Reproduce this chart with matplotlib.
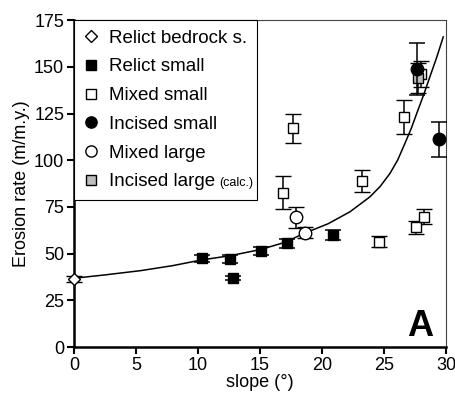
import matplotlib
matplotlib.use("Agg")
import matplotlib.pyplot as plt

plt.rcParams['font.family'] = ['Liberation Sans', 'DejaVu Sans']

# data
bedrock_x = [0.0]
bedrock_y = [36.5]
bedrock_err = [1.5]

relict_x = [10.3, 12.6, 12.85, 15.05, 17.15, 20.9]
relict_y = [47.4, 47.0, 37.0, 51.4, 55.5, 60.0]
relict_err = [2.0, 2.0, 1.0, 2.0, 2.5, 2.5]

mixed_small_x = [16.9, 17.7, 23.25, 24.6, 26.6, 27.6, 28.0, 28.25]
mixed_small_y = [82.6, 117.0, 89.0, 56.3, 123.2, 64.0, 146.0, 69.7]
mixed_small_err = [8.7, 8.0, 5.8, 3.0, 9.0, 3.5, 7.0, 4.0]

incised_small_x = [27.65, 29.4]
incised_small_y = [148.7, 111.3]
incised_small_err = [14.0, 9.4]

mixed_large_x = [17.9, 18.6]
mixed_large_y = [69.4, 61.2]
mixed_large_err = [5.5, 3.0]

incised_large_x = [27.75]
incised_large_y = [144.0]
incised_large_err = [8.0]

curve_x = [0, 2.5, 5.4, 8.0, 10.2, 12.7, 15.05, 17.0, 18.55, 20.5, 22.26, 23.87, 24.7,
           25.48, 26.1, 26.69, 27.2, 27.64, 28.2, 28.7, 29.25, 29.78]
curve_y = [36.8, 38.6, 40.9, 43.6, 46.5, 49.0, 52.2, 56.0, 60.8, 66.0, 72.4, 80.4, 86.0,
           92.9, 100.0, 109.0, 117.0, 125.0, 135.0, 144.6, 155.0, 166.0]

fig = plt.figure(figsize=(4.56, 3.95), dpi=100)
ax = fig.add_axes([0.162, 0.1215, 0.816, 0.8275])

ax.plot(curve_x, curve_y, color='black', lw=1.1, zorder=2)

ebkw = dict(ecolor='black', elinewidth=1.1, capsize=6, capthick=1.1, linestyle='none')
ax.errorbar(relict_x, relict_y, yerr=relict_err, fmt='s', ms=7.5, mfc='black', mec='black',
            label='Relict small', zorder=3, **ebkw)
ax.errorbar(mixed_small_x, mixed_small_y, yerr=mixed_small_err, fmt='s', ms=7.5, mfc='white',
            mec='black', mew=1.0, label='Mixed small', zorder=3, **ebkw)
ax.errorbar(incised_large_x, incised_large_y, yerr=incised_large_err, fmt='s', ms=7.5,
            mfc='#bdbdbd', mec='black', mew=1.0, label='Incised large', zorder=4, **ebkw)
ax.errorbar(incised_small_x, incised_small_y, yerr=incised_small_err, fmt='o', ms=9,
            mfc='black', mec='black', label='Incised small', zorder=5, **ebkw)
ax.errorbar(mixed_large_x, mixed_large_y, yerr=mixed_large_err, fmt='o', ms=9, mfc='white',
            mec='black', mew=1.0, label='Mixed large', zorder=4, **ebkw)
bed = ax.errorbar(bedrock_x, bedrock_y, yerr=bedrock_err, fmt='D', ms=6.5, mfc='white',
                  mec='black', mew=1.0, label='Relict bedrock s.', zorder=6, **ebkw)
for a in bed.lines:
    if a is None:
        continue
    if isinstance(a, (list, tuple)):
        for b in a:
            b.set_clip_on(False)
    else:
        a.set_clip_on(False)

ax.set_xlim(0, 30)
ax.set_ylim(0, 175)
ax.set_xticks(range(0, 31, 5))
ax.set_yticks(range(0, 176, 25))
ax.tick_params(direction='out', length=5, width=1.5, labelsize=13, pad=2)
for s in ['left', 'bottom']:
    ax.spines[s].set_linewidth(1.8)
for s in ['top', 'right']:
    ax.spines[s].set_linewidth(0.8)
    ax.spines[s].set_color('#444444')

ax.set_xlabel('slope (°)', fontsize=13, labelpad=0)
ax.set_ylabel('Erosion rate (m/m.y.)', fontsize=13, labelpad=3)

ax.text(0.966, 0.034, 'A', transform=ax.transAxes, ha='right', va='baseline',
        fontsize=26, fontweight='bold')

# legend order as in the figure
handles, labels = ax.get_legend_handles_labels()
order = ['Relict bedrock s.', 'Relict small', 'Mixed small', 'Incised small',
         'Mixed large', 'Incised large']
hmap = dict(zip(labels, handles))
hs = [hmap[l][0] for l in order]
leg = ax.legend(hs, order, loc='upper left', bbox_to_anchor=(0, 1), fontsize=13.5,
                frameon=True, fancybox=False, edgecolor='black', framealpha=1,
                handlelength=0.8, handletextpad=0.6, labelspacing=0.62,
                borderpad=0.5, borderaxespad=0, markerscale=0.9)
leg.get_frame().set_linewidth(0.8)

fig.canvas.draw()
txt = leg.get_texts()[-1]
bb = txt.get_window_extent()
x1, y0 = fig.transFigure.inverted().transform((bb.x1, bb.y0))
fig.text(x1 + 0.008, y0 + 0.004, '(calc.)', fontsize=9, ha='left', va='bottom')

fig.savefig('out.png', dpi=100)
